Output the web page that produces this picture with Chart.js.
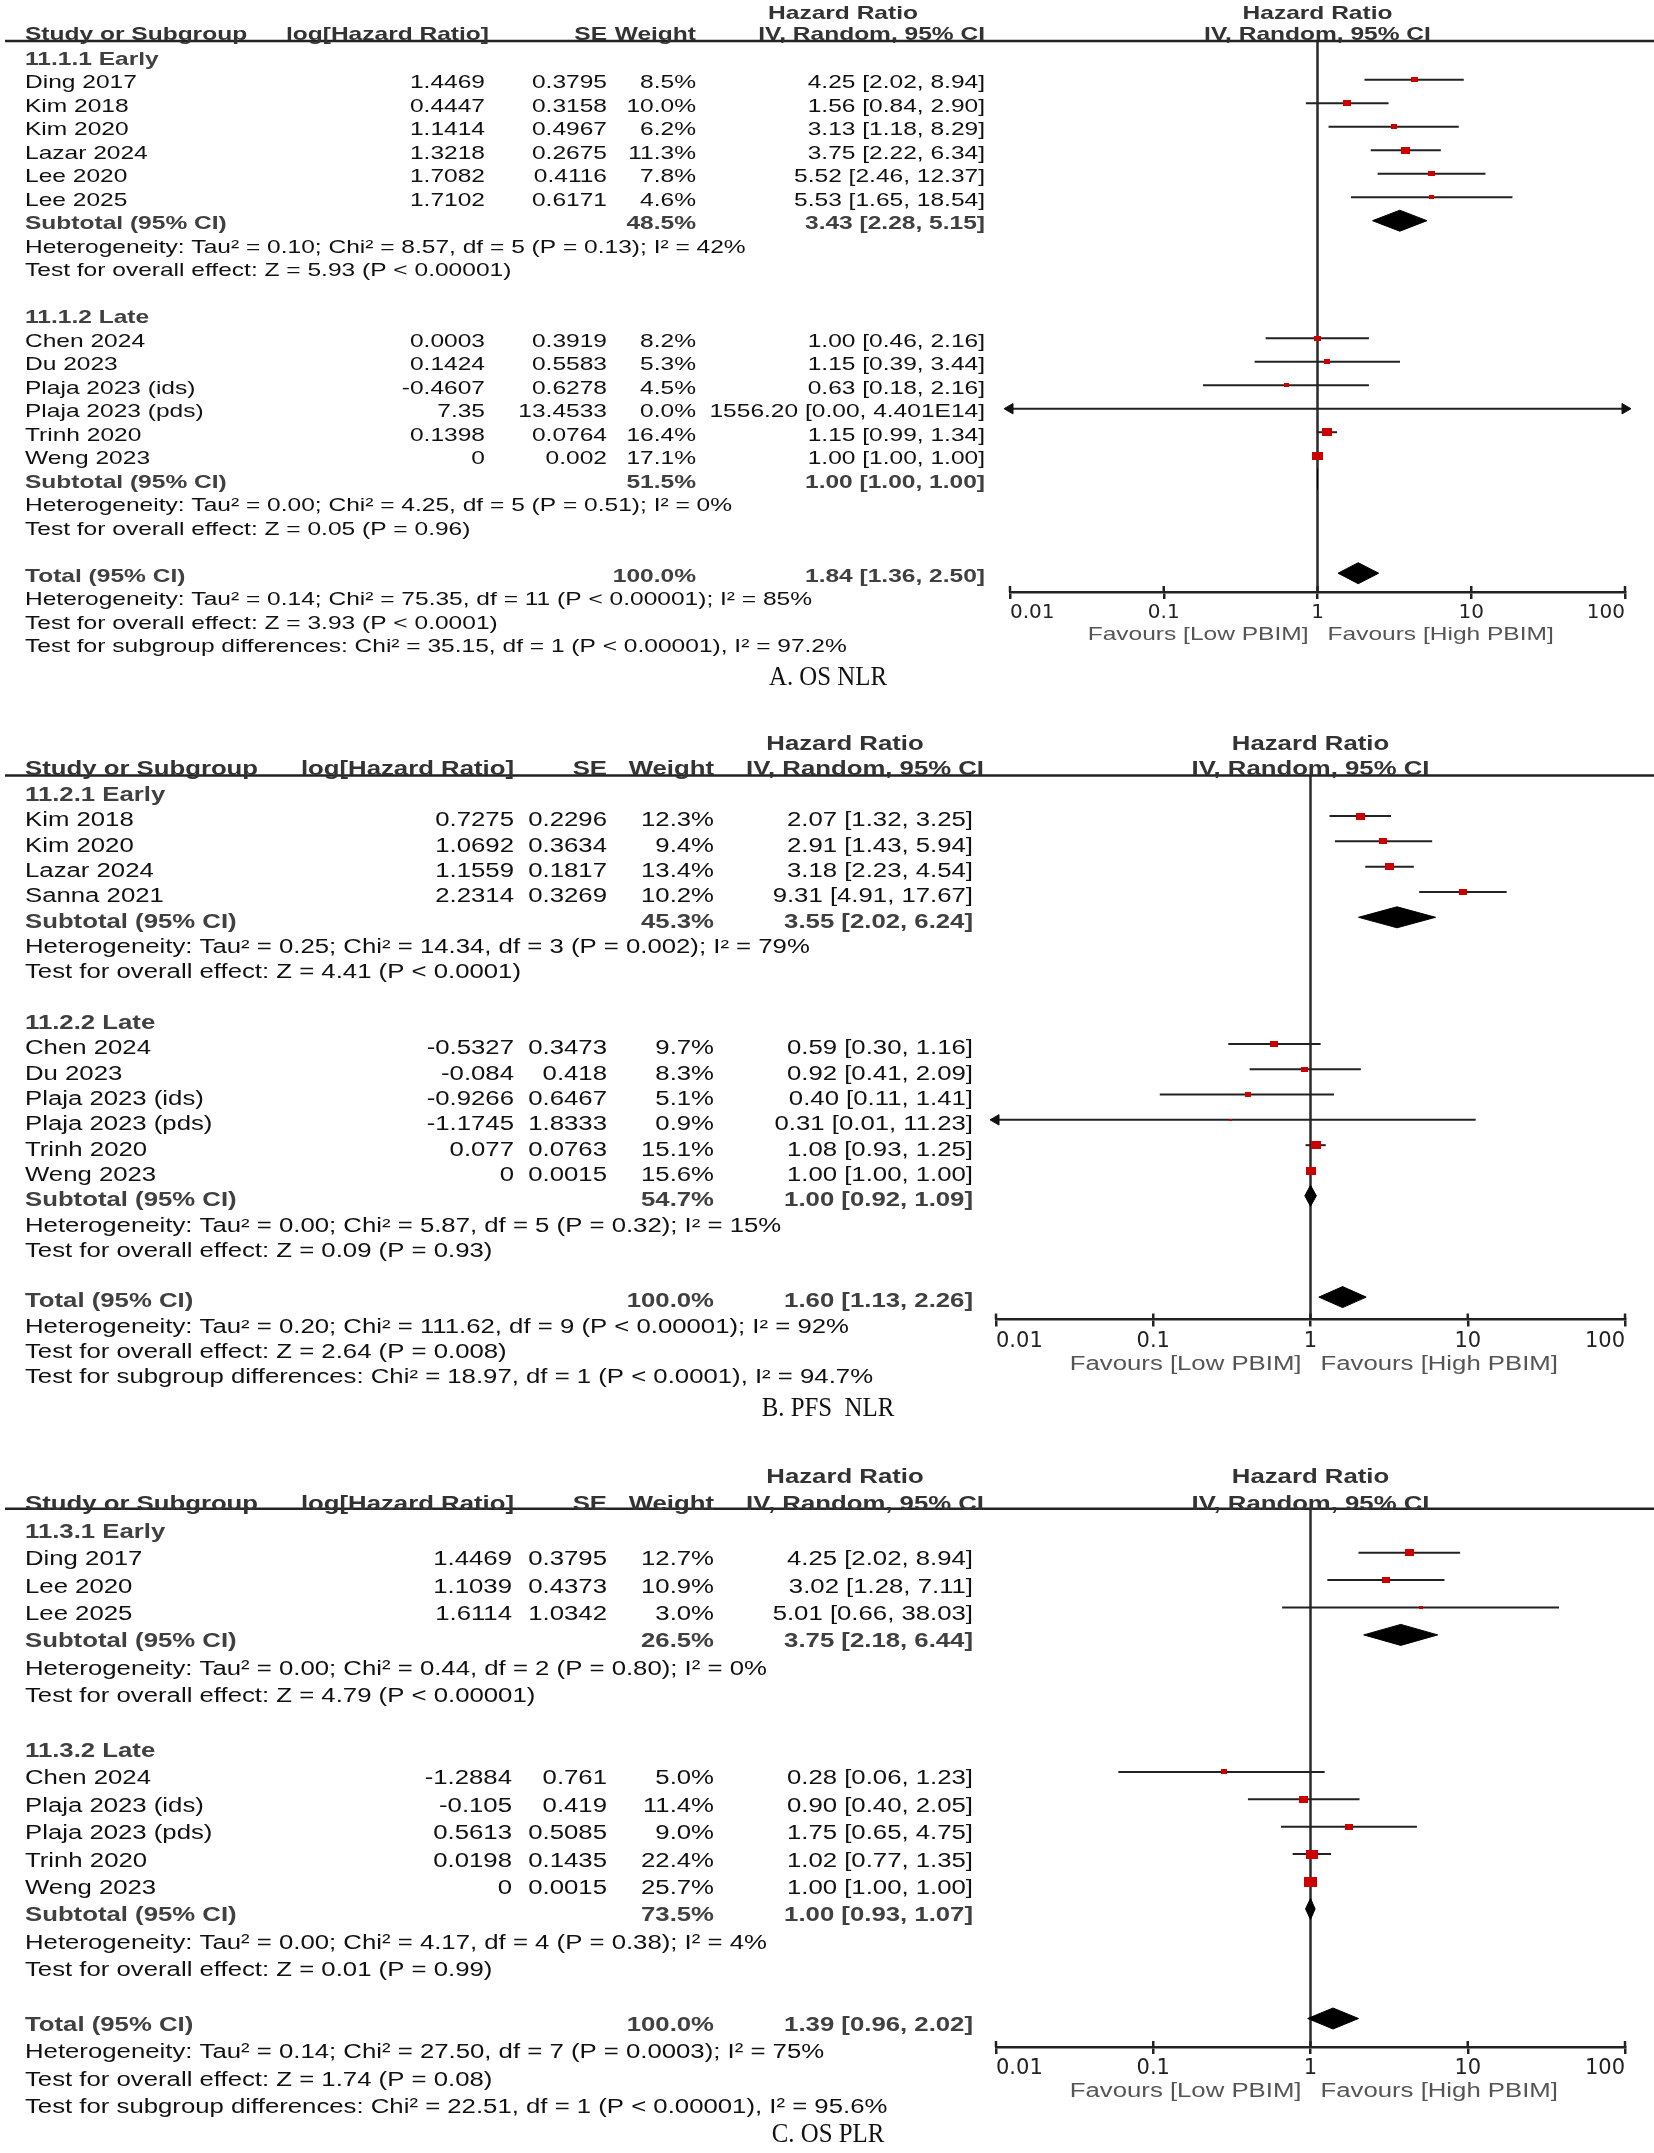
<!DOCTYPE html>
<html><head><meta charset="utf-8">
<script src="https://cdn.jsdelivr.net/npm/chart.js@4.4.1/dist/chart.umd.min.js"></script>
<style>
html,body{margin:0;padding:0;background:#fff;}
#wrap{position:relative;width:1654px;height:2153px;background:#fff;overflow:hidden;}
canvas{position:absolute;left:0;}
</style></head><body><div id="wrap">
<canvas id="cA" width="1654" height="722" style="top:0px"></canvas>
<canvas id="cB" width="1654" height="728" style="top:722px"></canvas>
<canvas id="cC" width="1654" height="703" style="top:1450px"></canvas>
</div>
<script>
// ---------------- shared axis values ----------------
const X_TICKS = [0.01, 0.1, 1, 10, 100];
const FAV_LEFT = "Favours [Low PBIM]";
const FAV_RIGHT = "Favours [High PBIM]";

// ---------------- Panel A: OS NLR ----------------
const A_groups = ["11.1.1 Early", "11.1.2 Late"];
const A_early_study = ["Ding 2017", "Kim 2018", "Kim 2020", "Lazar 2024", "Lee 2020", "Lee 2025"];
const A_early_loghr = ["1.4469", "0.4447", "1.1414", "1.3218", "1.7082", "1.7102"];
const A_early_se = ["0.3795", "0.3158", "0.4967", "0.2675", "0.4116", "0.6171"];
const A_early_weight = [8.5, 10.0, 6.2, 11.3, 7.8, 4.6];
const A_early_hr = [4.25, 1.56, 3.13, 3.75, 5.52, 5.53];
const A_early_lo = [2.02, 0.84, 1.18, 2.22, 2.46, 1.65];
const A_early_hi = [8.94, 2.90, 8.29, 6.34, 12.37, 18.54];
const A_late_study = ["Chen 2024", "Du 2023", "Plaja 2023 (ids)", "Plaja 2023 (pds)", "Trinh 2020", "Weng 2023"];
const A_late_loghr = ["0.0003", "0.1424", "-0.4607", "7.35", "0.1398", "0"];
const A_late_se = ["0.3919", "0.5583", "0.6278", "13.4533", "0.0764", "0.002"];
const A_late_weight = [8.2, 5.3, 4.5, 0.0, 16.4, 17.1];
const A_late_hr = [1.00, 1.15, 0.63, 1556.20, 1.15, 1.00];
const A_late_lo = [0.46, 0.39, 0.18, 0.00, 0.99, 1.00];
const A_late_hi = [2.16, 3.44, 2.16, 4.401e14, 1.34, 1.00];
const A_sub_weight = [48.5, 51.5];
const A_sub_hr = [3.43, 1.00];
const A_sub_lo = [2.28, 1.00];
const A_sub_hi = [5.15, 1.00];
const A_het = ["Heterogeneity: Tau² = 0.10; Chi² = 8.57, df = 5 (P = 0.13); I² = 42%",
               "Heterogeneity: Tau² = 0.00; Chi² = 4.25, df = 5 (P = 0.51); I² = 0%"];
const A_test = ["Test for overall effect: Z = 5.93 (P < 0.00001)",
                "Test for overall effect: Z = 0.05 (P = 0.96)"];
const A_total = [1.84, 1.36, 2.50];
const A_total_het = "Heterogeneity: Tau² = 0.14; Chi² = 75.35, df = 11 (P < 0.00001); I² = 85%";
const A_total_test = "Test for overall effect: Z = 3.93 (P < 0.0001)";
const A_subdiff = "Test for subgroup differences: Chi² = 35.15, df = 1 (P < 0.00001), I² = 97.2%";

// ---------------- Panel B: PFS NLR ----------------
const B_groups = ["11.2.1 Early", "11.2.2 Late"];
const B_early_study = ["Kim 2018", "Kim 2020", "Lazar 2024", "Sanna 2021"];
const B_early_loghr = ["0.7275", "1.0692", "1.1559", "2.2314"];
const B_early_se = ["0.2296", "0.3634", "0.1817", "0.3269"];
const B_early_weight = [12.3, 9.4, 13.4, 10.2];
const B_early_hr = [2.07, 2.91, 3.18, 9.31];
const B_early_lo = [1.32, 1.43, 2.23, 4.91];
const B_early_hi = [3.25, 5.94, 4.54, 17.67];
const B_late_study = ["Chen 2024", "Du 2023", "Plaja 2023 (ids)", "Plaja 2023 (pds)", "Trinh 2020", "Weng 2023"];
const B_late_loghr = ["-0.5327", "-0.084", "-0.9266", "-1.1745", "0.077", "0"];
const B_late_se = ["0.3473", "0.418", "0.6467", "1.8333", "0.0763", "0.0015"];
const B_late_weight = [9.7, 8.3, 5.1, 0.9, 15.1, 15.6];
const B_late_hr = [0.59, 0.92, 0.40, 0.31, 1.08, 1.00];
const B_late_lo = [0.30, 0.41, 0.11, 0.01, 0.93, 1.00];
const B_late_hi = [1.16, 2.09, 1.41, 11.23, 1.25, 1.00];
const B_sub_weight = [45.3, 54.7];
const B_sub_hr = [3.55, 1.00];
const B_sub_lo = [2.02, 0.92];
const B_sub_hi = [6.24, 1.09];
const B_het = ["Heterogeneity: Tau² = 0.25; Chi² = 14.34, df = 3 (P = 0.002); I² = 79%",
               "Heterogeneity: Tau² = 0.00; Chi² = 5.87, df = 5 (P = 0.32); I² = 15%"];
const B_test = ["Test for overall effect: Z = 4.41 (P < 0.0001)",
                "Test for overall effect: Z = 0.09 (P = 0.93)"];
const B_total = [1.60, 1.13, 2.26];
const B_total_het = "Heterogeneity: Tau² = 0.20; Chi² = 111.62, df = 9 (P < 0.00001); I² = 92%";
const B_total_test = "Test for overall effect: Z = 2.64 (P = 0.008)";
const B_subdiff = "Test for subgroup differences: Chi² = 18.97, df = 1 (P < 0.0001), I² = 94.7%";

// ---------------- Panel C: OS PLR ----------------
const C_groups = ["11.3.1 Early", "11.3.2 Late"];
const C_early_study = ["Ding 2017", "Lee 2020", "Lee 2025"];
const C_early_loghr = ["1.4469", "1.1039", "1.6114"];
const C_early_se = ["0.3795", "0.4373", "1.0342"];
const C_early_weight = [12.7, 10.9, 3.0];
const C_early_hr = [4.25, 3.02, 5.01];
const C_early_lo = [2.02, 1.28, 0.66];
const C_early_hi = [8.94, 7.11, 38.03];
const C_late_study = ["Chen 2024", "Plaja 2023 (ids)", "Plaja 2023 (pds)", "Trinh 2020", "Weng 2023"];
const C_late_loghr = ["-1.2884", "-0.105", "0.5613", "0.0198", "0"];
const C_late_se = ["0.761", "0.419", "0.5085", "0.1435", "0.0015"];
const C_late_weight = [5.0, 11.4, 9.0, 22.4, 25.7];
const C_late_hr = [0.28, 0.90, 1.75, 1.02, 1.00];
const C_late_lo = [0.06, 0.40, 0.65, 0.77, 1.00];
const C_late_hi = [1.23, 2.05, 4.75, 1.35, 1.00];
const C_sub_weight = [26.5, 73.5];
const C_sub_hr = [3.75, 1.00];
const C_sub_lo = [2.18, 0.93];
const C_sub_hi = [6.44, 1.07];
const C_het = ["Heterogeneity: Tau² = 0.00; Chi² = 0.44, df = 2 (P = 0.80); I² = 0%",
               "Heterogeneity: Tau² = 0.00; Chi² = 4.17, df = 4 (P = 0.38); I² = 4%"];
const C_test = ["Test for overall effect: Z = 4.79 (P < 0.00001)",
                "Test for overall effect: Z = 0.01 (P = 0.99)"];
const C_total = [1.39, 0.96, 2.02];
const C_total_het = "Heterogeneity: Tau² = 0.14; Chi² = 27.50, df = 7 (P = 0.0003); I² = 75%";
const C_total_test = "Test for overall effect: Z = 1.74 (P = 0.08)";
const C_subdiff = "Test for subgroup differences: Chi² = 22.51, df = 1 (P < 0.00001), I² = 95.6%";

// ---------------- helpers ----------------
const AX_MIN = X_TICKS[0], AX_MAX = X_TICKS[X_TICKS.length - 1];
function fmtHR(v) {
  if (v >= 1e6) { const p = v.toExponential(3).split('e'); return p[0] + 'E' + p[1].replace('+', ''); }
  return v.toFixed(2);
}
function ciText(h, l, u) { return fmtHR(h) + ' [' + fmtHR(l) + ', ' + fmtHR(u) + ']'; }

function buildRows(d) {
  const rows = []; let r = 0;
  [d.g1, d.g2].forEach((g, gi) => {
    rows.push({ r: r++, kind: 'group', name: d.groups[gi] });
    g.study.forEach((s, i) => rows.push({ r: r++, kind: 'study', name: s, loghr: g.loghr[i], se: g.se[i],
      w: g.weight[i], hr: g.hr[i], lo: g.lo[i], hi: g.hi[i] }));
    rows.push({ r: r++, kind: 'sub', name: 'Subtotal (95% CI)', w: d.subW[gi], hr: d.subHR[gi], lo: d.subLo[gi], hi: d.subHi[gi] });
    rows.push({ r: r++, kind: 'note', name: d.het[gi] });
    rows.push({ r: r++, kind: 'note', name: d.test[gi] });
    r++;
  });
  rows.push({ r: r++, kind: 'sub', name: 'Total (95% CI)', w: 100, hr: d.total[0], lo: d.total[1], hi: d.total[2] });
  rows.push({ r: r++, kind: 'note', name: d.totHet });
  rows.push({ r: r++, kind: 'note', name: d.totTest });
  rows.push({ r: r++, kind: 'note', name: d.subDiff });
  return rows;
}

function T(ctx, s, x, y, align, font, color, sx) {
  ctx.save(); ctx.translate(x, y); ctx.scale(sx, 1);
  ctx.font = font; ctx.fillStyle = color; ctx.textAlign = align; ctx.textBaseline = 'middle';
  ctx.fillText(s, 0, 0); ctx.restore();
}

function rectStyle(w) {
  const c = document.createElement('canvas');
  const wd = Math.max(3, Math.round(2.55 * Math.sqrt(w)));
  const ht = Math.max(2, Math.round(wd * 0.76));
  c.width = wd; c.height = ht;
  const g = c.getContext('2d'); g.fillStyle = '#cc0000'; g.fillRect(0, 0, wd, ht);
  return c;
}

const FONT = '"Liberation Sans", Arial, Helvetica, sans-serif';
const TXT = '#111', BOLDG = '#404040', HDR = '#333';

function makePanel(canvasId, d, L) {
  const rows = buildRows(d);
  const yMin = -(L.row0 - L.rule) / L.step;
  const yMax = (L.axis - L.row0) / L.step;
  const datasets = [];
  // squares (weights)
  const sqRows = rows.filter(r => r.kind === 'study' && r.w > 0);
  datasets.push({
    data: sqRows.map(r => ({ x: r.hr, y: r.r })),
    pointStyle: sqRows.map(r => rectStyle(r.w)),
    pointRadius: 5, showLine: false
  });
  // confidence intervals
  rows.filter(r => r.kind === 'study').forEach(r => {
    const la = r.lo <= AX_MIN, ra = r.hi > AX_MAX;
    datasets.push({
      data: [{ x: Math.max(r.lo, AX_MIN), y: r.r }, { x: Math.min(r.hi, AX_MAX), y: r.r }],
      showLine: true, borderColor: '#222', borderWidth: 2,
      pointStyle: 'triangle', pointRadius: [la ? 6 : 0, ra ? 6 : 0], pointRotation: [270, 90],
      pointBackgroundColor: '#111', pointBorderColor: '#111', pointBorderWidth: 1, clip: false
    });
  });
  // diamonds
  const h = 10.5 / L.step;
  rows.filter(r => r.kind === 'sub').forEach(r => {
    datasets.push({
      data: [{ x: r.lo, y: r.r }, { x: r.hr, y: r.r - h }, { x: r.hi, y: r.r }, { x: r.hr, y: r.r + h }, { x: r.lo, y: r.r }],
      showLine: true, fill: 'shape', backgroundColor: '#000', borderColor: '#000', borderWidth: 1, pointRadius: 0, tension: 0
    });
  });
  // line of no effect
  datasets.push({ data: [{ x: 1, y: yMin }, { x: 1, y: yMax }], showLine: true, borderColor: '#2a2a2a', borderWidth: 2.5, pointRadius: 0 });

  const plugin = {
    id: 'forestText',
    afterDraw(chart) {
      const ctx = chart.ctx, ys = chart.scales.y, xs = chart.scales.x;
      const reg = L.fs + 'px ' + FONT, bold = 'bold ' + L.fs + 'px ' + FONT;
      const dy = L.dy;
      // header rule
      ctx.save(); ctx.strokeStyle = '#222'; ctx.lineWidth = 2.5; ctx.beginPath();
      ctx.moveTo(5, L.rule); ctx.lineTo(1654, L.rule); ctx.stroke(); ctx.restore();
      // table headers
      T(ctx, 'Hazard Ratio', L.hrCenter, L.hdr1 + dy, 'center', bold, HDR, L.sx);
      T(ctx, 'Study or Subgroup', 25, L.hdr2 + dy, 'left', bold, HDR, L.sx);
      T(ctx, 'log[Hazard Ratio]', L.hdrLog, L.hdr2 + dy, 'right', bold, HDR, L.sx);
      T(ctx, 'SE', L.se, L.hdr2 + dy, 'right', bold, HDR, L.sx);
      T(ctx, 'Weight', L.w, L.hdr2 + dy, 'right', bold, HDR, L.sx);
      T(ctx, 'IV, Random, 95% CI', L.hdrCi, L.hdr2 + dy, 'right', bold, HDR, L.sx);
      const x1 = xs.getPixelForValue(1);
      T(ctx, 'Hazard Ratio', x1, L.hdr1 + dy, 'center', bold, HDR, L.sx);
      T(ctx, 'IV, Random, 95% CI', x1, L.hdr2 + dy, 'center', bold, HDR, L.sx);
      // rows
      rows.forEach(r => {
        const y = ys.getPixelForValue(r.r) + dy;
        if (r.kind === 'group') T(ctx, r.name, 25, y, 'left', bold, BOLDG, L.sx);
        else if (r.kind === 'note') T(ctx, r.name, 25, y, 'left', reg, TXT, L.sx);
        else if (r.kind === 'study') {
          T(ctx, r.name, 25, y, 'left', reg, TXT, L.sx);
          T(ctx, r.loghr, L.loghr, y, 'right', reg, TXT, L.sx);
          T(ctx, r.se, L.se, y, 'right', reg, TXT, L.sx);
          T(ctx, r.w.toFixed(1) + '%', L.w, y, 'right', reg, TXT, L.sx);
          T(ctx, ciText(r.hr, r.lo, r.hi), L.ci, y, 'right', reg, TXT, L.sx);
        } else if (r.kind === 'sub') {
          T(ctx, r.name, 25, y, 'left', bold, BOLDG, L.sx);
          T(ctx, r.w.toFixed(1) + '%', L.w, y, 'right', bold, BOLDG, L.sx);
          T(ctx, ciText(r.hr, r.lo, r.hi), L.ci, y, 'right', bold, BOLDG, L.sx);
        }
      });
      // upward halves of tick marks
      ctx.save(); ctx.strokeStyle = '#222'; ctx.lineWidth = 2.5;
      xs.ticks.forEach(t => { const px = xs.getPixelForValue(t.value); ctx.beginPath(); ctx.moveTo(px, L.axis - 6); ctx.lineTo(px, L.axis); ctx.stroke(); });
      ctx.restore();
      // favours labels
      T(ctx, FAV_LEFT, x1 - 9, L.fav, 'right', reg, '#555', L.sx);
      T(ctx, FAV_RIGHT, x1 + 10, L.fav, 'left', reg, '#555', L.sx);
      // caption
      T(ctx, L.caption, 828, L.cap, 'center', '27px "Liberation Serif", "Times New Roman", serif', '#111', 0.92);
    }
  };

  new Chart(document.getElementById(canvasId), {
    type: 'scatter',
    data: { datasets },
    options: {
      responsive: false, animation: false, devicePixelRatio: 1, events: [],
      layout: { padding: { left: L.left, right: 1654 - L.right, top: L.rule, bottom: 0 } },
      plugins: { legend: { display: false }, tooltip: { enabled: false } },
      scales: {
        x: {
          type: 'logarithmic', min: AX_MIN, max: AX_MAX, position: 'bottom',
          afterBuildTicks: s => { s.ticks = X_TICKS.map(v => ({ value: v })); },
          afterFit: s => { s.height = L.H - L.axis; },
          ticks: { callback: v => String(v), align: 'inner', autoSkip: false, maxRotation: 0,
                   font: { family: 'DejaVu Sans', size: L.tickFs }, color: '#222', padding: 2 },
          grid: { display: true, drawOnChartArea: false, drawTicks: true, tickLength: 7, color: '#222', lineWidth: 2.5 },
          border: { display: true, color: '#222', width: 2.5 }
        },
        y: { type: 'linear', reverse: true, min: yMin, max: yMax, display: false }
      }
    },
    plugins: [plugin]
  });
}

makePanel('cA', {
  groups: A_groups,
  g1: { study: A_early_study, loghr: A_early_loghr, se: A_early_se, weight: A_early_weight, hr: A_early_hr, lo: A_early_lo, hi: A_early_hi },
  g2: { study: A_late_study, loghr: A_late_loghr, se: A_late_se, weight: A_late_weight, hr: A_late_hr, lo: A_late_lo, hi: A_late_hi },
  subW: A_sub_weight, subHR: A_sub_hr, subLo: A_sub_lo, subHi: A_sub_hi, het: A_het, test: A_test,
  total: A_total, totHet: A_total_het, totTest: A_total_test, subDiff: A_subdiff
}, { H: 722, left: 1010, right: 1625, hdr1: 10, hdr2: 31, rule: 41, row0: 56.2, step: 23.5, axis: 592,
     fav: 634.5, cap: 678, fs: 18.5, sx: 1.326, tickFs: 20, dy: 3.5,
     loghr: 485, hdrLog: 489, se: 607, w: 696, ci: 985, hdrCi: 985, hrCenter: 843, caption: 'A. OS NLR' });

makePanel('cB', {
  groups: B_groups,
  g1: { study: B_early_study, loghr: B_early_loghr, se: B_early_se, weight: B_early_weight, hr: B_early_hr, lo: B_early_lo, hi: B_early_hi },
  g2: { study: B_late_study, loghr: B_late_loghr, se: B_late_se, weight: B_late_weight, hr: B_late_hr, lo: B_late_lo, hi: B_late_hi },
  subW: B_sub_weight, subHR: B_sub_hr, subLo: B_sub_lo, subHi: B_sub_hi, het: B_het, test: B_test,
  total: B_total, totHet: B_total_het, totTest: B_total_test, subDiff: B_subdiff
}, { H: 728, left: 996, right: 1625, hdr1: 18, hdr2: 42.5, rule: 53.6, row0: 68.7, step: 25.32, axis: 597.5,
     fav: 642.5, cap: 686.5, fs: 19.5, sx: 1.32, tickFs: 21, dy: 5,
     loghr: 514, hdrLog: 514, se: 607, w: 714, ci: 973, hdrCi: 984, hrCenter: 845, caption: 'B. PFS  NLR' });

makePanel('cC', {
  groups: C_groups,
  g1: { study: C_early_study, loghr: C_early_loghr, se: C_early_se, weight: C_early_weight, hr: C_early_hr, lo: C_early_lo, hi: C_early_hi },
  g2: { study: C_late_study, loghr: C_late_loghr, se: C_late_se, weight: C_late_weight, hr: C_late_hr, lo: C_late_lo, hi: C_late_hi },
  subW: C_sub_weight, subHR: C_sub_hr, subLo: C_sub_lo, subHi: C_sub_hi, het: C_het, test: C_test,
  total: C_total, totHet: C_total_het, totTest: C_total_test, subDiff: C_subdiff
}, { H: 703, left: 996, right: 1625, hdr1: 20.4, hdr2: 47.5, rule: 58.8, row0: 75.3, step: 27.4, axis: 597,
     fav: 641, cap: 685, fs: 20, sx: 1.287, tickFs: 21, dy: 7,
     loghr: 512, hdrLog: 514, se: 607, w: 714, ci: 973, hdrCi: 984, hrCenter: 845, caption: 'C. OS PLR' });
</script>
</body></html>
